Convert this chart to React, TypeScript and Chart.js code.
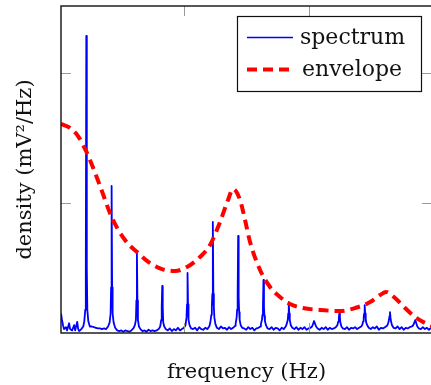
import React, { useEffect, useRef } from "react";
import { Chart, registerables } from "chart.js";

Chart.register(...registerables);

// ---------- data ----------
const specFreq = [
  0, 2, 4, 6, 10, 12, 16, 18, 22, 26, 28, 32, 34, 36, 40, 44,
  46, 48, 49, 50, 51, 52, 54, 57,
  61, 65, 69, 73, 77, 81, 85, 89, 93,
  96, 98, 99, 100, 101, 102, 104, 107,
  111, 115, 119, 123, 127, 131, 135, 139, 143,
  146, 148, 149, 150, 151, 152, 154, 157,
  161, 165, 169, 173, 177, 181, 185, 189, 193,
  196, 198, 199, 200, 201, 202, 204, 207,
  211, 215, 219, 223, 227, 231, 235, 239, 243,
  246, 248, 249, 250, 251, 252, 254, 257,
  261, 265, 269, 273, 277, 281, 285, 289, 293,
  295, 297, 298, 299, 300, 301, 302, 303, 305, 308,
  312, 316, 320, 324, 328, 332, 336, 340, 344,
  345, 347, 348, 349, 350, 351, 352, 353, 355, 358,
  362, 366, 370, 374, 378, 382, 386, 390, 394,
  395, 397, 398, 399, 400, 401, 402, 403, 405, 408,
  412, 416, 420, 424, 428, 432, 436, 440, 444,
  446, 448, 449, 450, 451, 452, 454, 457,
  461, 465, 469, 473, 477, 481, 485, 489, 493,
  496, 498, 500, 502, 504, 507,
  511, 515, 519, 523, 527, 531, 535, 539, 543,
  546, 548, 549, 550, 551, 552, 554, 557,
  561, 565, 569, 573, 577, 581, 585, 589, 593,
  595, 597, 598, 599, 600, 601, 602, 603, 605, 608,
  612, 616, 620, 624, 628, 632, 636, 640, 644,
  646, 648, 649, 650, 651, 652, 654, 657,
  661, 665, 669, 673, 677, 681, 685, 689, 693,
  696, 698, 700, 702, 704, 707,
  711, 715, 719, 723, 727, 731, 735,
];

const specDensity = [
  0.15, 0.1, 0.06, 0.03, 0.045, 0.02, 0.075, 0.03, 0.02, 0.06, 0.02, 0.085, 0.03, 0.015, 0.03, 0.05,
  0.09, 0.18, 0.5, 2.285, 0.5, 0.18, 0.09, 0.05,
  0.05, 0.045, 0.04, 0.035, 0.035, 0.03, 0.035, 0.03, 0.05,
  0.08, 0.15, 0.35, 1.131, 0.35, 0.15, 0.08, 0.04,
  0.02, 0.015, 0.02, 0.01, 0.02, 0.015, 0.01, 0.02, 0.035,
  0.06, 0.1, 0.25, 0.615, 0.25, 0.1, 0.05, 0.03,
  0.015, 0.02, 0.01, 0.025, 0.015, 0.02, 0.015, 0.02, 0.03,
  0.05, 0.1, 0.2, 0.362, 0.2, 0.08, 0.05, 0.03,
  0.02, 0.035, 0.015, 0.03, 0.02, 0.04, 0.02, 0.03, 0.04,
  0.06, 0.12, 0.22, 0.462, 0.22, 0.1, 0.06, 0.035,
  0.03, 0.04, 0.02, 0.045, 0.03, 0.025, 0.04, 0.03, 0.05,
  0.08, 0.14, 0.2, 0.3, 0.854, 0.3, 0.2, 0.12, 0.07, 0.04,
  0.03, 0.05, 0.035, 0.04, 0.025, 0.045, 0.03, 0.04, 0.055,
  0.07, 0.12, 0.18, 0.28, 0.746, 0.28, 0.16, 0.1, 0.06, 0.04,
  0.035, 0.025, 0.045, 0.03, 0.04, 0.02, 0.035, 0.04, 0.05,
  0.07, 0.1, 0.14, 0.2, 0.408, 0.2, 0.13, 0.09, 0.06, 0.035,
  0.03, 0.045, 0.025, 0.04, 0.035, 0.02, 0.04, 0.03, 0.05,
  0.07, 0.1, 0.15, 0.238, 0.15, 0.1, 0.06, 0.04,
  0.03, 0.045, 0.025, 0.04, 0.03, 0.045, 0.025, 0.035, 0.04,
  0.05, 0.07, 0.092, 0.07, 0.05, 0.035,
  0.025, 0.04, 0.03, 0.045, 0.025, 0.04, 0.03, 0.035, 0.045,
  0.06, 0.09, 0.12, 0.154, 0.12, 0.08, 0.05, 0.035,
  0.03, 0.045, 0.025, 0.04, 0.035, 0.045, 0.03, 0.04, 0.05,
  0.06, 0.09, 0.12, 0.15, 0.215, 0.15, 0.11, 0.08, 0.06, 0.04,
  0.03, 0.045, 0.035, 0.05, 0.025, 0.04, 0.035, 0.045, 0.055,
  0.07, 0.1, 0.13, 0.16, 0.12, 0.09, 0.06, 0.04,
  0.035, 0.05, 0.03, 0.045, 0.025, 0.04, 0.035, 0.045, 0.05,
  0.06, 0.08, 0.1, 0.075, 0.05, 0.035,
  0.03, 0.045, 0.03, 0.04, 0.025, 0.04, 0.035,
];

const envFreq = [
  0, 17.8, 33.6, 49.4, 61.3, 77.1, 100.8, 126.5, 150.2, 175.9, 199.6, 225.3,
  249, 274.7, 294.5, 314.2, 330, 340, 353.8, 363.6, 373.5, 393.3, 413, 432.8,
  452.6, 478.3, 511.9, 551.4, 581, 610.7, 630.4, 642.3, 660, 679.8, 699.6, 719.4, 733.2,
];
const envDensity = [
  1.608, 1.577, 1.515, 1.4, 1.292, 1.131, 0.885, 0.715, 0.623, 0.538, 0.492, 0.477,
  0.508, 0.585, 0.677, 0.854, 1.023, 1.108, 1.023, 0.869, 0.7, 0.485, 0.354, 0.277,
  0.223, 0.192, 0.177, 0.169, 0.192, 0.238, 0.292, 0.315, 0.269, 0.192, 0.123, 0.077, 0.054,
];

const seriesLabels = ["spectrum", "envelope"];
const xTitle = "frequency (Hz)";
const yTitle = "density (mV²/Hz)";
const xTicks = [243, 490];
const yTicks = [1, 2];
const xRange = [0, 733];
const yRange = [0, 2.515];

const FONT = '"DejaVu Serif", "Liberation Serif", serif';

const framePlugin = {
  id: "pgfFrame",
  afterDatasetsDraw(chart: any) {
    const { ctx, chartArea: a, scales } = chart;
    ctx.save();
    // tick marks
    ctx.strokeStyle = "#9a9a9a";
    ctx.lineWidth = 1;
    ctx.setLineDash([]);
    ctx.beginPath();
    for (const t of xTicks) {
      const px = Math.round(scales.x.getPixelForValue(t)) + 0.5;
      ctx.moveTo(px, a.top);
      ctx.lineTo(px, a.top + 10);
      ctx.moveTo(px, a.bottom);
      ctx.lineTo(px, a.bottom - 10);
    }
    for (const t of yTicks) {
      const py = Math.round(scales.y.getPixelForValue(t)) + 0.5;
      ctx.moveTo(a.left, py);
      ctx.lineTo(a.left + 10, py);
      ctx.moveTo(a.right, py);
      ctx.lineTo(a.right - 10, py);
    }
    ctx.stroke();

    // frame
    ctx.strokeStyle = "#111";
    ctx.lineWidth = 1.4;
    ctx.strokeRect(a.left, a.top, a.right - a.left, a.bottom - a.top);

    // axis titles
    ctx.fillStyle = "#111";
    ctx.font = `21px ${FONT}`;
    ctx.textAlign = "center";
    ctx.textBaseline = "alphabetic";
    ctx.fillText(xTitle, (a.left + a.right) / 2, 378);
    ctx.save();
    ctx.translate(31, (a.top + a.bottom) / 2);
    ctx.rotate(-Math.PI / 2);
    ctx.fillText(yTitle, 0, 0);
    ctx.restore();

    // legend
    const lx = 237.5, ly = 16.5, lw = 184, lh = 75;
    ctx.fillStyle = "#fff";
    ctx.fillRect(lx, ly, lw, lh);
    ctx.strokeStyle = "#111";
    ctx.lineWidth = 1.2;
    ctx.strokeRect(lx, ly, lw, lh);

    ctx.strokeStyle = "#0000ff";
    ctx.lineWidth = 1.5;
    ctx.beginPath();
    ctx.moveTo(247, 37.5);
    ctx.lineTo(293, 37.5);
    ctx.stroke();

    ctx.strokeStyle = "#ff0000";
    ctx.lineWidth = 4;
    ctx.setLineDash([10, 6]);
    ctx.beginPath();
    ctx.moveTo(247, 69.5);
    ctx.lineTo(290, 69.5);
    ctx.stroke();
    ctx.setLineDash([]);

    ctx.fillStyle = "#111";
    ctx.font = `22px ${FONT}`;
    ctx.textAlign = "left";
    ctx.fillText(seriesLabels[0], 300, 44);
    ctx.fillText(seriesLabels[1], 302, 76);
    ctx.restore();
  },
};

export default function App() {
  const ref = useRef<HTMLCanvasElement | null>(null);

  useEffect(() => {
    if (!ref.current) return;
    const spectrum = specFreq.map((f, i) => ({ x: f, y: specDensity[i] }));
    const envelope = envFreq.map((f, i) => ({ x: f, y: envDensity[i] }));
    const chart = new Chart(ref.current, {
      type: "line",
      data: {
        datasets: [
          {
            label: seriesLabels[0],
            data: spectrum,
            borderColor: "#0000ff",
            borderWidth: 1.8,
            borderJoinStyle: "round",
            pointRadius: 0,
            tension: 0,
            fill: false,
            order: 2,
          },
          {
            label: seriesLabels[1],
            data: envelope,
            borderColor: "#ff0000",
            borderWidth: 4,
            borderDash: [10, 6],
            borderCapStyle: "butt",
            pointRadius: 0,
            cubicInterpolationMode: "monotone",
            fill: false,
            order: 1,
          },
        ],
      },
      options: {
        animation: false,
        responsive: false,
        maintainAspectRatio: false,
        events: [],
        layout: { padding: { left: 61, top: 6, right: 1, bottom: 52 } },
        scales: {
          x: { type: "linear", min: xRange[0], max: xRange[1], display: false },
          y: { type: "linear", min: yRange[0], max: yRange[1], display: false },
        },
        plugins: {
          legend: { display: false },
          tooltip: { enabled: false },
        },
      },
      plugins: [framePlugin],
    } as any);
    return () => chart.destroy();
  }, []);

  return (
    <div
      style={{
        position: "fixed",
        left: 0,
        top: 0,
        width: 431,
        height: 385,
        overflow: "hidden",
        background: "#fff",
      }}
    >
      <canvas ref={ref} width={433} height={385} style={{ width: 433, height: 385, display: "block" }} />
    </div>
  );
}
